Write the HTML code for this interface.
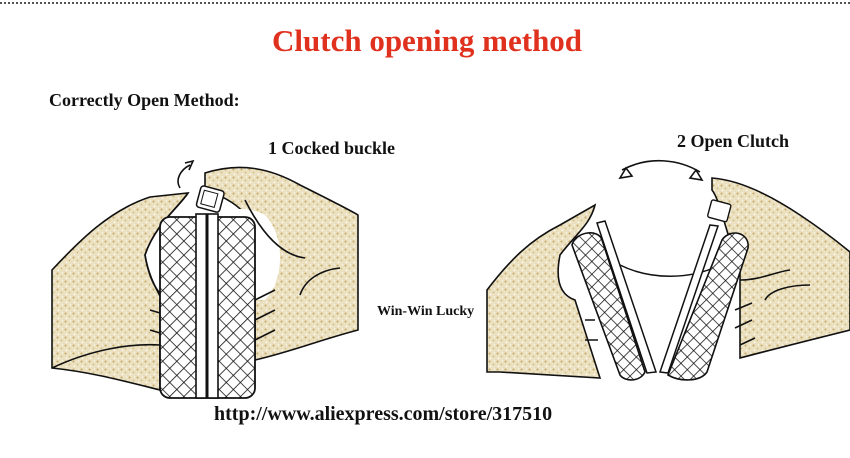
<!DOCTYPE html>
<html><head><meta charset="utf-8"><style>
html,body{margin:0;padding:0;background:#fff;}
body{width:850px;height:458px;overflow:hidden;position:relative;font-family:"Liberation Serif",serif;}
.t{position:absolute;white-space:nowrap;font-weight:bold;color:#111;}
</style></head><body>
<svg width="850" height="458" style="position:absolute;left:0;top:0">
<defs>
<pattern id="sand" width="8" height="8" patternUnits="userSpaceOnUse">
<rect width="8" height="8" fill="#ebe0bf"/>
<circle cx="1.5" cy="1.5" r="1" fill="#c2a865"/>
<circle cx="5.5" cy="4.5" r="0.9" fill="#d2bd85"/>
<circle cx="2.5" cy="6.3" r="0.8" fill="#fff"/>
<circle cx="6.5" cy="1" r="0.6" fill="#fff"/>
</pattern>
<pattern id="hatch" width="10" height="10" patternUnits="userSpaceOnUse" patternTransform="rotate(45)">
<rect width="10" height="10" fill="#fff"/>
<path d="M0 0V10M0 0H10" stroke="#111" stroke-width="1.6"/>
</pattern>
<pattern id="hatch2" width="9" height="9" patternUnits="userSpaceOnUse" patternTransform="rotate(45)">
<rect width="9" height="9" fill="#fff"/>
<path d="M0 0V9M0 0H9" stroke="#111" stroke-width="1.5"/>
</pattern>
</defs>
<line x1="0" y1="3" x2="850" y2="3" stroke="#555" stroke-width="2" stroke-dasharray="2 2"/>
<!-- LEFT DIAGRAM -->
<g stroke="#111" stroke-width="1.6" fill="url(#sand)">
<path d="M52 270 C80 240 110 210 150 197 L188 193 C178 208 155 225 145 255 C150 285 165 300 160 300 L160 390 C120 380 90 372 52 368 Z"/>
<path d="M205 173 C240 162 270 168 300 185 C330 200 350 210 358 215 L358 330 C320 340 290 352 255 360 L255 230 C245 205 220 195 205 190 Z"/>
</g>
<path d="M52 368 C90 350 130 343 160 345" fill="none" stroke="#111" stroke-width="1.6"/>
<path d="M165 240 C190 215 240 200 265 215 C285 235 285 280 265 300 L170 300 Z" fill="#fff"/>
<g fill="none" stroke="#111" stroke-width="1.6">
<path d="M188 193 C178 208 155 225 145 255 C150 285 160 295 168 300"/>
<path d="M245 200 C260 230 280 255 305 258"/>
<path d="M300 295 C305 280 320 270 340 268"/>
<path d="M255 300 L275 290 M255 320 L275 310 M255 340 L275 330"/>
<path d="M150 310 L160 313 M150 330 L160 333"/>
<path d="M180 188 C175 180 180 170 190 165 M185 163 L193 161 L189 170"/>
</g>
<rect x="160" y="217" width="95" height="181" rx="10" fill="url(#hatch)" stroke="#111" stroke-width="1.8"/>
<rect x="196" y="214" width="22" height="184" fill="#fff" stroke="#111" stroke-width="1.6"/>
<line x1="207" y1="214" x2="207" y2="398" stroke="#111" stroke-width="3"/>
<g transform="rotate(15 210 200)"><rect x="198" y="188" width="24" height="22" rx="3" fill="#fff" stroke="#111" stroke-width="1.5"/><rect x="202" y="192" width="14" height="14" fill="none" stroke="#111" stroke-width="1"/></g>
<!-- RIGHT DIAGRAM -->
<g stroke="#111" stroke-width="1.6" fill="url(#sand)">
<path d="M487 290 C510 260 530 240 560 225 L595 205 C590 225 575 235 560 255 C555 280 560 295 575 300 L600 378 L500 372 L487 372 Z"/>
<path d="M712 178 C740 180 770 195 800 215 C830 235 845 248 850 252 L850 330 C810 340 770 350 740 358 L740 270 C725 230 720 200 712 190 Z"/>
</g>
<path d="M600 265 C640 280 690 280 725 265 L700 350 L625 350 Z" fill="#fff" stroke="none"/>
<path d="M620 265 C650 280 690 280 720 265" fill="none" stroke="#111" stroke-width="1.5"/>
<g fill="none" stroke="#111" stroke-width="1.6">
<path d="M740 280 C760 280 775 272 790 270 M765 300 C770 290 790 285 810 285"/>
<path d="M735 310 L752 303 M735 328 L752 320 M740 345 L755 338"/>
<path d="M585 320 L595 320 M585 340 L598 340"/>
<path d="M622 170 C650 155 680 160 700 172"/>
<path d="M620 178 L626 168 L632 176 Z M702 180 L696 170 L690 178 Z" fill="#fff"/>
</g>
<path d="M572 245 C575 232 598 228 602 240 L645 372 C640 382 625 382 620 375 Z" fill="url(#hatch2)" stroke="#111" stroke-width="1.6"/>
<path d="M722 240 C730 228 750 232 748 248 L707 372 C700 382 680 382 668 375 Z" fill="url(#hatch2)" stroke="#111" stroke-width="1.6"/>
<path d="M597 223 L605 221 L656 372 L647 373 Z" fill="#fff" stroke="#111" stroke-width="1.5"/>
<path d="M710 225 L718 226 L668 373 L660 372 Z" fill="#fff" stroke="#111" stroke-width="1.5"/>
<g transform="rotate(15 720 212)"><rect x="709" y="202" width="20" height="18" rx="2" fill="#fff" stroke="#111" stroke-width="1.4"/></g>
</svg>
<div class="t" style="left:272px;top:23px;font-size:31px;color:#e0301e;">Clutch opening method</div>
<div class="t" style="left:49px;top:90px;font-size:18px;">Correctly Open Method:</div>
<div class="t" style="left:268px;top:138px;font-size:18px;">1 Cocked buckle</div>
<div class="t" style="left:677px;top:131px;font-size:18px;">2 Open Clutch</div>
<div class="t" style="left:377px;top:304px;font-size:14px;">Win-Win Lucky</div>
<div class="t" style="left:214px;top:403px;font-size:20px;">http://www.aliexpress.com/store/317510</div>
</body></html>
